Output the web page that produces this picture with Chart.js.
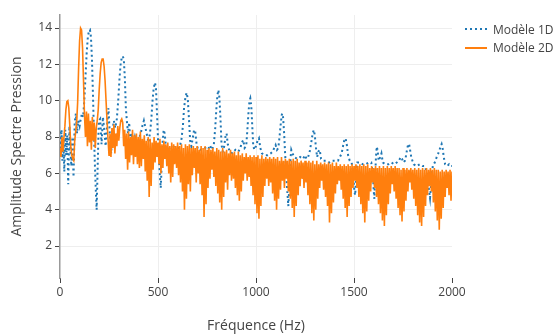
<!DOCTYPE html>
<html>
<head>
<meta charset="utf-8">
<script src="https://cdn.jsdelivr.net/npm/chart.js@4.4.1/dist/chart.umd.min.js"></script>
<style>
  body { margin: 0; background: #fff; }
  #wrap { position: relative; width: 557px; height: 334px; }
  #legend { position: absolute; left: 462px; top: 20px; font-family: 'Open Sans'; font-size: 12px; color: #444; }
  .row { display: flex; align-items: center; height: 18.5px; white-space: nowrap; }
  .row svg { margin-right: 5px; }
</style>
</head>
<body>
<div id="wrap">
  <canvas id="chart" width="557" height="334"></canvas>
  <div id="legend">
    <div class="row"><svg width="26" height="4"><line x1="3" y1="2" x2="25" y2="2" stroke="#1f77b4" stroke-width="2" stroke-dasharray="2,3"/></svg>Modèle 1D</div>
    <div class="row"><svg width="26" height="4"><line x1="3" y1="2" x2="25" y2="2" stroke="#ff7f0e" stroke-width="2"/></svg>Modèle 2D</div>
  </div>
</div>
<script>
// Modèle 1D : fréquences (Hz) et amplitudes
const freq1D = [
  0, 4, 8, 12, 17, 22, 27, 32, 37, 42,
  48, 53, 58, 63, 69, 75, 81, 87, 93, 100,
  106, 112, 118, 124, 130, 136, 142, 148, 153, 158,
  163, 168, 173, 178, 183, 187, 192, 198, 205, 212,
  219, 226, 233, 240, 247, 254, 261, 268, 275, 282,
  290, 297, 304, 310, 316, 321, 326, 331, 336, 341,
  347, 353, 359, 366, 374, 382, 392, 402, 412, 420,
  428, 436, 444, 452, 460, 466, 472, 478, 485, 490,
  495, 500, 505, 510, 514, 519, 524, 529, 534, 540,
  548, 560, 575, 590, 605, 612, 620, 627, 633, 640,
  646, 652, 658, 664, 670, 677, 684, 690, 697, 705,
  720, 740, 755, 765, 775, 785, 792, 798, 803, 808,
  813, 818, 824, 830, 838, 845, 850, 856, 865, 880,
  895, 910, 920, 928, 935, 942, 950, 956, 962, 967,
  971, 976, 981, 986, 992, 1000, 1008, 1015, 1022, 1030,
  1045, 1060, 1075, 1085, 1093, 1100, 1107, 1114, 1120, 1126,
  1131, 1134, 1138, 1143, 1148, 1153, 1159, 1165, 1171, 1176,
  1180, 1186, 1195, 1210, 1225, 1240, 1250, 1258, 1266, 1274,
  1282, 1289, 1295, 1300, 1306, 1312, 1318, 1325, 1332, 1345,
  1360, 1375, 1390, 1405, 1418, 1428, 1437, 1444, 1450, 1457,
  1463, 1470, 1478, 1488, 1496, 1502, 1506, 1511, 1517, 1530,
  1545, 1560, 1575, 1588, 1596, 1601, 1604, 1608, 1612, 1616,
  1620, 1626, 1634, 1640, 1647, 1660, 1675, 1690, 1705, 1718,
  1730, 1738, 1745, 1752, 1760, 1766, 1772, 1777, 1781, 1786,
  1792, 1798, 1805, 1820, 1835, 1850, 1862, 1872, 1880, 1888,
  1895, 1902, 1912, 1922, 1930, 1937, 1942, 1947, 1952, 1958,
  1965, 1975, 1985, 1993, 2000
];
const amp1D = [
  8.3, 7.4, 8.4, 6.7, 7.9, 6.1, 8.4, 7.0, 8.1, 5.4,
  8.6, 7.3, 6.4, 8.0, 5.8, 8.8, 9.3, 8.2, 8.9, 8.6,
  9.0, 9.3, 9.1, 10.0, 11.3, 12.6, 13.5, 13.85, 13.9, 13.5,
  12.3, 10.4, 8.3, 6.5, 5.0, 4.0, 6.3, 8.9, 9.0, 7.6,
  9.1, 8.4, 7.5, 8.6, 9.6, 8.2, 7.1, 8.4, 8.9, 8.5,
  9.0, 10.0, 11.3, 12.1, 12.4, 12.45, 12.2, 11.2, 9.6, 8.9,
  8.2, 8.8, 7.7, 8.2, 7.6, 8.0, 7.5, 7.9, 8.2, 8.6,
  8.9, 8.5, 8.1, 7.7, 8.3, 9.0, 10.0, 10.7, 11.0, 10.6,
  9.3, 7.9, 6.8, 5.8, 5.2, 6.5, 7.8, 8.4, 8.2, 7.5,
  7.3, 7.4, 7.5, 7.4, 7.4, 7.5, 7.9, 8.6, 9.6, 10.2,
  10.44, 10.1, 9.0, 7.8, 7.5, 7.9, 8.4, 8.3, 7.6, 7.3,
  7.3, 7.4, 7.3, 7.55, 7.3, 7.6, 8.5, 9.6, 10.3, 10.59,
  10.2, 9.2, 7.6, 7.2, 7.5, 8.1, 8.2, 7.6, 7.2, 7.1,
  7.3, 7.2, 7.4, 7.7, 7.84, 7.4, 7.5, 8.4, 9.4, 10.0,
  10.13, 9.7, 8.6, 7.5, 7.3, 7.5, 7.8, 7.93, 7.4, 7.1,
  7.0, 7.0, 7.1, 7.2, 7.4, 7.56, 7.3, 7.4, 8.0, 8.7,
  9.2, 9.3, 9.1, 8.3, 7.2, 6.2, 5.1, 4.2, 5.5, 6.8,
  7.29, 7.1, 6.9, 6.8, 6.9, 6.8, 7.0, 6.8, 6.9, 7.2,
  7.7, 8.2, 8.39, 8.1, 7.4, 6.9, 7.2, 7.3, 6.8, 6.7,
  6.7, 6.6, 6.7, 6.7, 6.7, 6.9, 7.1, 7.5, 7.8, 7.93,
  7.6, 7.0, 6.7, 6.6, 6.0, 5.0, 4.8, 5.8, 6.6, 6.6,
  6.5, 6.5, 6.6, 6.6, 6.0, 5.0, 4.6, 5.8, 6.9, 7.47,
  7.3, 6.7, 6.9, 7.1, 6.6, 6.5, 6.5, 6.6, 6.5, 6.6,
  6.7, 6.9, 6.8, 6.6, 6.7, 7.0, 7.4, 7.6, 7.62, 7.3,
  6.9, 6.7, 6.5, 6.4, 6.5, 6.4, 6.4, 6.0, 5.3, 4.65,
  5.6, 6.4, 6.6, 6.9, 7.1, 7.3, 7.5, 7.62, 7.4, 6.9,
  6.5, 6.4, 6.5, 6.4, 6.4
];

// Modèle 2D : échantillonné tous les 5 Hz de 0 à 2000 Hz (une ligne = 100 Hz)
const step2D = 5;
const amp2D = [
  7.4, 6.9, 8.0, 7.2, 8.0, 8.6, 9.5, 9.95, 10.0, 9.6, 8.6, 7.5, 7.0, 6.8, 6.7, 7.8, 8.3, 8.8, 9.9, 11.8,
  13.3, 14.0, 13.9, 12.9, 11.1, 9.2, 8.0, 9.4, 7.5, 9.3, 7.7, 8.9, 7.3, 9.1, 7.8, 8.8, 7.4, 8.5, 8.9, 9.5,
  10.6, 11.5, 12.1, 12.3, 12.3, 11.9, 11.1, 10.0, 8.9, 7.9, 7.0, 8.2, 6.9, 8.5, 7.4, 8.7, 7.1, 8.2, 7.5, 8.6,
  7.8, 8.5, 8.9, 9.0, 8.8, 7.5, 8.4, 6.8, 8.2, 6.2, 8.3, 6.6, 8.0, 7.0, 8.4, 6.5, 8.1, 6.9, 8.2, 6.5,
  8.0, 6.3, 8.3, 6.4, 7.9, 6.8, 8.1, 6.1, 7.8, 5.6, 8.0, 4.7, 7.9, 5.3, 7.7, 6.2, 8.0, 6.6, 7.8, 6.9,
  7.7, 6.5, 7.9, 6.0, 7.6, 6.3, 7.8, 6.8, 7.6, 6.4, 7.7, 6.0, 7.5, 5.5, 7.7, 5.8, 7.6, 6.5, 7.5, 6.3,
  7.7, 5.9, 7.5, 5.5, 7.6, 5.0, 7.4, 4.0, 7.6, 4.6, 7.5, 5.4, 7.6, 5.0, 7.4, 5.9, 7.5, 6.3, 7.4, 5.5,
  7.5, 6.0, 7.3, 5.4, 7.5, 4.8, 7.4, 3.6, 7.5, 4.3, 7.3, 5.2, 7.4, 5.7, 7.3, 6.2, 7.4, 5.8, 7.2, 5.3,
  7.4, 4.9, 7.3, 4.4, 7.2, 4.0, 7.4, 4.7, 7.2, 5.5, 7.3, 5.1, 7.1, 5.9, 7.3, 5.6, 7.1, 5.7, 7.2, 5.2,
  7.0, 4.8, 7.2, 4.5, 7.0, 5.0, 7.1, 5.6, 6.9, 6.0, 7.1, 5.6, 6.9, 5.8, 7.0, 5.3, 6.9, 4.8, 7.0, 4.3,
  6.9, 3.8, 7.0, 3.5, 6.8, 4.2, 7.0, 4.7, 6.8, 5.3, 6.9, 5.7, 6.8, 5.3, 6.9, 5.5, 6.8, 4.9, 6.9, 4.5,
  6.8, 4.0, 6.9, 4.6, 6.7, 5.1, 6.9, 5.6, 6.7, 5.2, 6.8, 5.7, 6.7, 5.0, 6.8, 4.6, 6.7, 4.1, 6.8, 3.6,
  6.7, 4.2, 6.8, 4.8, 6.6, 5.3, 6.7, 5.7, 6.6, 5.2, 6.7, 5.5, 6.6, 4.8, 6.7, 4.3, 6.6, 3.8, 6.7, 3.4,
  6.5, 4.0, 6.7, 4.6, 6.5, 5.2, 6.6, 5.6, 6.5, 5.1, 6.6, 4.7, 6.5, 4.2, 6.6, 3.3, 6.5, 3.8, 6.6, 4.4,
  6.4, 4.9, 6.6, 5.4, 6.4, 5.6, 6.5, 5.1, 6.4, 4.6, 6.5, 4.1, 6.4, 3.6, 6.5, 4.2, 6.4, 4.7, 6.5, 5.2,
  6.4, 5.6, 6.5, 5.2, 6.4, 4.7, 6.5, 4.3, 6.4, 3.8, 6.5, 3.3, 6.4, 3.9, 6.5, 4.5, 6.3, 5.0, 6.4, 5.5,
  6.3, 5.2, 6.4, 4.7, 6.3, 4.3, 6.4, 3.8, 6.3, 3.4, 6.4, 3.1, 6.3, 3.7, 6.4, 4.3, 6.3, 4.9, 6.4, 5.4,
  6.3, 5.0, 6.4, 4.6, 6.3, 4.1, 6.3, 3.7, 6.2, 3.35, 6.3, 3.9, 6.2, 4.5, 6.3, 5.0, 6.2, 5.5, 6.3, 5.1,
  6.2, 4.6, 6.3, 4.2, 6.2, 3.7, 6.3, 3.3, 6.2, 3.1, 6.3, 3.6, 6.2, 4.2, 6.3, 4.8, 6.2, 5.3, 6.3, 5.0,
  6.2, 4.4, 6.3, 3.9, 6.2, 3.4, 6.2, 2.9, 6.1, 3.5, 6.2, 4.1, 6.1, 4.7, 6.2, 5.2, 6.1, 4.8, 6.2, 4.5,
  6.1
];

const xTicks = [0, 500, 1000, 1500, 2000];
const yTicks = [2, 4, 6, 8, 10, 12, 14];

const data1D = freq1D.map((f, i) => ({ x: f, y: amp1D[i] }));
const data2D = amp2D.map((a, i) => ({ x: i * step2D, y: a }));

const font = { family: 'Open Sans', size: 12 };

new Chart(document.getElementById("chart"), {
  type: 'line',
  data: {
    datasets: [
      { label: 'Modèle 1D', data: data1D, borderColor: '#1f77b4', borderWidth: 2,
        borderDash: [2, 3], pointRadius: 0, order: 1 },
      { label: 'Modèle 2D', data: data2D, borderColor: '#ff7f0e', borderWidth: 1.6,
        pointRadius: 0, order: 0 }
    ]
  },
  options: {
    responsive: false,
    animation: false,
    layout: { padding: { top: 15, right: 105, left: 0, bottom: 0 } },
    plugins: { legend: { display: false }, tooltip: { enabled: false } },
    scales: {
      x: {
        type: 'linear', min: 0, max: 2000,
        afterBuildTicks: s => { s.ticks = xTicks.map(v => ({ value: v })); },
        afterFit: s => { s.height = 56; },
        border: { display: false },
        grid: {
          color: c => (c.tick && (c.tick.value === 0 || c.tick.value === 2000)) ? 'rgba(0,0,0,0)' : '#eee',
          tickColor: '#444', tickLength: 5
        },
        ticks: { color: '#444', font: font, padding: 2, maxRotation: 0, callback: v => String(v) },
        title: { display: true, text: 'Fréquence (Hz)', color: '#444',
                 font: { family: 'Open Sans', size: 14 }, padding: 0 }
      },
      y: {
        min: 0.24, max: 14.72,
        afterBuildTicks: s => { s.ticks = yTicks.map(v => ({ value: v })); },
        afterFit: s => { s.width = 60; },
        border: { display: true, color: '#999', width: 1.5 },
        grid: { color: '#eee', tickColor: '#444', tickLength: 5 },
        ticks: { color: '#444', font: font, padding: 3, callback: v => String(v) },
        title: { display: true, text: 'Amplitude Spectre Pression', color: '#444',
                 font: { family: 'Open Sans', size: 14 }, padding: { top: 9, bottom: 0 } }
      }
    }
  }
});
</script>
</body>
</html>
